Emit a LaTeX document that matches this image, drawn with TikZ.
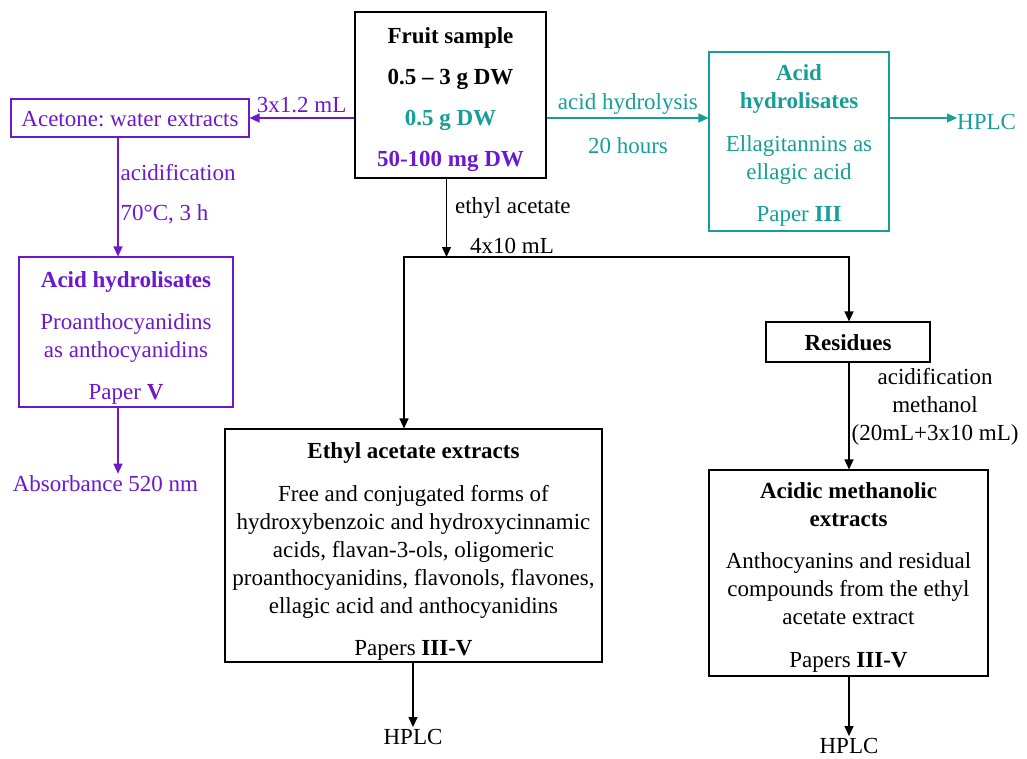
\documentclass[tikz,border=0pt]{standalone}
\usepackage{fontspec}
\setmainfont{Liberation Serif}
\frenchspacing
\usetikzlibrary{arrows.meta, positioning}
\definecolor{hydpurple}{RGB}{108,24,204}
\definecolor{hydteal}{RGB}{23,158,152}
% raises the first line of a box text
\newcommand{\linelift}[1]{\rule{0pt}{#1}}
\tikzset{
  stepbox/.style={
    draw,
    line width=1.1pt,
    align=center,
    inner sep=0pt,
    font=\fontsize{23}{28}\selectfont
  },
  flow/.style={
    -{Triangle[length=10pt,width=9pt]},
    line width=1.2pt
  },
  flowboth/.style={
    {Triangle[length=10pt,width=9pt]}-{Triangle[length=10pt,width=9pt]},
    line width=1.2pt
  },
  note/.style={
    font=\fontsize{23}{28}\selectfont,
    inner sep=2pt,
    align=center
  }
}

\begin{document}
\begin{tikzpicture}[x=1pt, y=-1pt]
    \useasboundingbox (0,0) rectangle (1027,758);

    % starting material
    \node[stepbox, line width=2.8pt, minimum width=191pt, minimum height=166pt,
      font=\bfseries\fontsize{23}{41}\selectfont] (fruit) at (450.5,95)
      {\linelift{26pt}Fruit sample\\0.5 -- 3 g DW\\\textcolor{hydteal}{0.5 g DW}\\\textcolor{hydpurple}{50-100 mg DW}};

    % left branch (purple)
    \node[stepbox, hydpurple, minimum width=238pt, minimum height=38pt] (acetone) at (130,118)
      {\linelift{18pt}Acetone: water extracts};
    \node[stepbox, hydpurple, minimum width=214pt, minimum height=150pt] (acidL) at (126,332)
      {\linelift{28pt}\textbf{Acid hydrolisates}\\[14pt]Proanthocyanidins\\as anthocyanidins\\[14pt]Paper \textbf{V}};
    \node[note, hydpurple] (absorb) at (105.5,484) {Absorbance 520 nm};

    \draw[flow, hydpurple] (fruit.west |- acetone) -- (acetone.east)
      node[midway, above=3pt, note] {3x1.2 mL};
    \draw[flow, hydpurple] ([xshift=-12pt]acetone.south) -- ([xshift=-8pt]acidL.north)
      node[pos=0.29, right=0pt, note] {acidification}
      node[pos=0.645, right=0pt, note] {70°C, 3 h};
    \draw[flow, hydpurple] ([xshift=-8pt]acidL.south) -- ([xshift=12.5pt]absorb.north);

    % right branch (teal)
    \node[stepbox, hydteal, minimum width=180pt, minimum height=179pt] (acidT) at (799,141.5)
      {\linelift{24pt}\textbf{Acid}\\\textbf{hydrolisates}\\[15pt]Ellagitannins as\\ellagic acid\\[14pt]Paper \textbf{III}};
    \node[note, hydteal, anchor=west, inner sep=0pt] (hplcT) at (957,122) {HPLC};
    \coordinate (tealrow) at (0,118);
    \draw[flow, hydteal] (fruit.east |- tealrow) -- (acidT.west |- tealrow)
      node[midway, above=1pt, note] {acid hydrolysis}
      node[midway, below=17pt, note] {20 hours};
    \draw[flow, hydteal] (acidT.east |- tealrow) -- (hplcT.west |- tealrow);

    % middle branch (black)
    \node[stepbox, minimum width=377pt, minimum height=233pt] (ethyl) at (413.5,545.5)
      {\linelift{27pt}\textbf{Ethyl acetate extracts}\\[15pt]Free and conjugated forms of\\hydroxybenzoic and hydroxycinnamic\\acids, flavan-3-ols, oligomeric\\proanthocyanidins, flavonols, flavones,\\ellagic acid and anthocyanidins\\[14pt]Papers \textbf{III-V}};
    \node[stepbox, minimum width=164pt, minimum height=40pt,
      font=\bfseries\fontsize{23}{28}\selectfont] (residues) at (848,342) {\linelift{18pt}Residues};
    \node[stepbox, minimum width=279pt, minimum height=206pt] (acidic) at (848.5,573)
      {\linelift{25pt}\textbf{Acidic methanolic}\\\textbf{extracts}\\[14pt]Anthocyanins and residual\\compounds from the ethyl\\acetate extract\\[15pt]Papers \textbf{III-V}};
    \node[note] (hplcL) at (413,737) {HPLC};
    \node[note] (hplcR) at (849,746) {HPLC};

    \coordinate (split) at (446.5,257);
    \coordinate (leftturn) at (404,257);
    \coordinate (rightturn) at (849,257);
    \draw[flow] (fruit.south -| split) -- (split)
      node[pos=0.37, right=6pt, note] {ethyl acetate}
      node[pos=0.86, right=21pt, note] {4x10 mL};
    \draw[flowboth] (leftturn |- ethyl.north) -- (leftturn) -- (rightturn) -- (rightturn |- residues.north);
    \draw[flow] (residues.south -| rightturn) -- (acidic.north -| rightturn)
      node[pos=0.41, right=0pt, note] {acidification\\methanol\\(20mL+3x10 mL)};
    \draw[flow] (ethyl.south -| hplcL) -- (hplcL.north);
    \draw[flow] (acidic.south -| rightturn) -- (hplcR.north -| rightturn);

\end{tikzpicture}
\end{document}
